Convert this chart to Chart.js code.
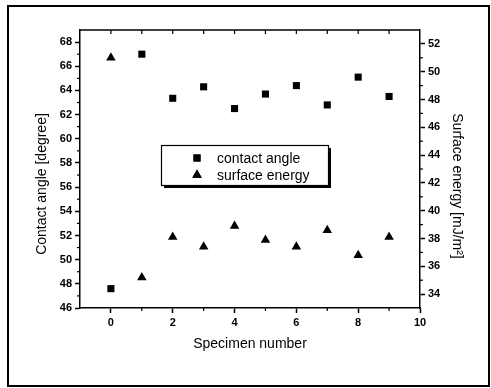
<!DOCTYPE html>
<html><head><meta charset="utf-8">
<script src="https://cdn.jsdelivr.net/npm/chart.js@4/dist/chart.umd.min.js"></script>
<style>html,body{margin:0;padding:0;background:#fff;}#wrap{width:491px;height:388px;}</style>
</head><body><div id="wrap"><canvas id="c" width="491" height="388"></canvas></div>
<script>
const specimens = [0, 1, 2, 3, 4, 5, 6, 7, 8, 9];
const contactAngle = [47.6, 67.0, 63.35, 64.3, 62.5, 63.7, 64.4, 62.8, 65.1, 63.5];
const surfaceEnergy = [51.0, 35.2, 38.1, 37.4, 38.9, 37.9, 37.4, 38.6, 36.8, 38.1];
const xTicks = [0, 2, 4, 6, 8, 10];
const xMinorTicks = [1, 3, 5, 7, 9];
const xTopTicks = [0, 1, 2, 3, 4, 5, 6, 7, 8, 9];
const leftTicks = [46, 48, 50, 52, 54, 56, 58, 60, 62, 64, 66, 68];
const leftMinorTicks = [47, 49, 51, 53, 55, 57, 59, 61, 63, 65, 67];
const rightTicks = [34, 36, 38, 40, 42, 44, 46, 48, 50, 52];
const rightMinorTicks = [35, 37, 39, 41, 43, 45, 47, 49, 51];
const seriesLabels = ['contact angle', 'surface energy'];
const xTitle = 'Specimen number';
const yTitle = 'Contact angle [degree]';
const y1Title = 'Surface energy [mJ/m\u00B2]';

const FONT = '"Liberation Sans", Arial, sans-serif';
const tickFont = { family: FONT, size: 11, weight: 'bold' };

function axisCommon(ticksArr, fitFn) {
  return {
    afterBuildTicks: s => { s.ticks = ticksArr.map(v => ({ value: v })); },
    afterFit: fitFn,
    grid: { drawOnChartArea: false, drawTicks: true, tickLength: 5, tickColor: '#000', tickWidth: 1.5 },
    border: { display: true, color: '#000', width: 1.5 },
    ticks: { color: '#000', font: tickFont, padding: 3, autoSkip: false, maxRotation: 0 }
  };
}

const extras = {
  id: 'extras',
  afterDraw(chart) {
    const ctx = chart.ctx;
    const a = chart.chartArea;
    const sx = chart.scales.x, sy = chart.scales.y, sy1 = chart.scales.y1;
    ctx.save();
    ctx.strokeStyle = '#000';
    ctx.lineWidth = 1.5;
    // top border
    ctx.beginPath(); ctx.moveTo(a.left, a.top); ctx.lineTo(a.right, a.top); ctx.stroke();
    // top inward ticks
    ctx.lineWidth = 1.2;
    xTopTicks.forEach(v => { const p = sx.getPixelForValue(v); ctx.beginPath(); ctx.moveTo(p, a.top); ctx.lineTo(p, a.top + 4); ctx.stroke(); });
    // minor ticks
    xMinorTicks.forEach(v => { const p = sx.getPixelForValue(v); ctx.beginPath(); ctx.moveTo(p, a.bottom); ctx.lineTo(p, a.bottom + 3); ctx.stroke(); });
    leftMinorTicks.forEach(v => { const p = sy.getPixelForValue(v); ctx.beginPath(); ctx.moveTo(a.left - 3, p); ctx.lineTo(a.left, p); ctx.stroke(); });
    rightMinorTicks.forEach(v => { const p = sy1.getPixelForValue(v); ctx.beginPath(); ctx.moveTo(a.right, p); ctx.lineTo(a.right + 3, p); ctx.stroke(); });
    // axis titles
    ctx.fillStyle = '#000';
    ctx.font = '14px ' + FONT;
    ctx.textAlign = 'center'; ctx.textBaseline = 'middle';
    ctx.fillText(xTitle, (a.left + a.right) / 2, 344);
    ctx.save(); ctx.translate(42, 184); ctx.rotate(-Math.PI / 2); ctx.fillText(yTitle, 0, 0); ctx.restore();
    ctx.save(); ctx.translate(457, 186); ctx.rotate(Math.PI / 2); ctx.fillText(y1Title, 0, 0); ctx.restore();
    // legend
    const lx = 161, ly = 145, lw = 167, lh = 40;
    ctx.fillRect(lx + 3, ly + 3, lw, lh);
    ctx.fillStyle = '#fff'; ctx.fillRect(lx, ly, lw, lh);
    ctx.lineWidth = 1.2; ctx.strokeRect(lx + 0.5, ly + 0.5, lw, lh);
    ctx.fillStyle = '#000';
    chart.data.datasets.forEach((ds, i) => {
      const yy = ly + 13 + i * 17;
      Chart.helpers.drawPoint(ctx, { pointStyle: ds.pointStyle, radius: ds.pointRadius, rotation: 0, borderWidth: 0 }, lx + 36, yy);
      ctx.fill();
      ctx.textAlign = 'left';
      ctx.fillText(seriesLabels[i], lx + 56, yy + 1);
    });
    // outer frame
    ctx.lineWidth = 2;
    ctx.strokeRect(8, 6, 481, 380);
    ctx.restore();
  }
};

new Chart(document.getElementById('c'), {
  type: 'scatter',
  data: {
    datasets: [
      { label: seriesLabels[0], data: specimens.map((x, i) => ({ x, y: contactAngle[i] })), yAxisID: 'y',
        pointStyle: 'rect', pointRadius: 5, backgroundColor: '#000', borderColor: '#000', borderWidth: 0 },
      { label: seriesLabels[1], data: specimens.map((x, i) => ({ x, y: surfaceEnergy[i] })), yAxisID: 'y1',
        pointStyle: 'triangle', pointRadius: 5.5, backgroundColor: '#000', borderColor: '#000', borderWidth: 0 }
    ]
  },
  options: {
    responsive: false,
    devicePixelRatio: 1,
    animation: false,
    layout: { padding: { top: 30, left: 0, right: 0, bottom: 0 } },
    plugins: { legend: { display: false }, tooltip: { enabled: false } },
    scales: {
      x: Object.assign({ type: 'linear', position: 'bottom', min: -1, max: 10 }, axisCommon(xTicks, s => { s.height = 80; })),
      y: Object.assign({ type: 'linear', position: 'left', min: 46, max: 69 }, axisCommon(leftTicks, s => { s.width = 80; })),
      y1: Object.assign({ type: 'linear', position: 'right', min: 33, max: 53 }, axisCommon(rightTicks, s => { s.width = 71; }))
    }
  },
  plugins: [extras]
});
</script></body></html>
